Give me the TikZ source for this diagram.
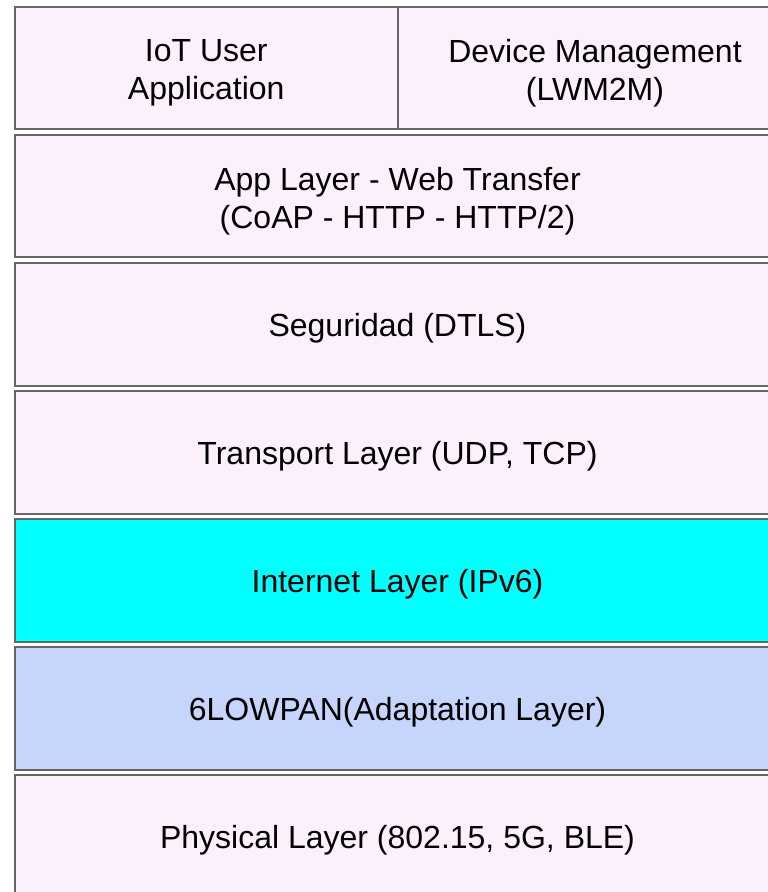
\documentclass[tikz,border=0pt]{standalone}
\usepackage{fontspec}
\setmainfont{Liberation Sans}
\usepackage{tikz}
\usetikzlibrary{positioning}
\definecolor{layerpink}{HTML}{FDF0FD}
\definecolor{layercyan}{HTML}{00FFFF}
\definecolor{layerblue}{HTML}{C6D5FC}
\definecolor{layerline}{HTML}{666666}
\newcommand{\layerpad}{\rule{0pt}{15.5pt}}

\begin{document}
\begin{tikzpicture}[node distance=2.75pt, line width=1pt,
  font=\fontsize{16}{19}\selectfont]
\tikzstyle{layer}=[draw=layerline, fill=layerpink, text=black, rectangle,
  align=center, inner sep=0pt, outer sep=0pt,
  minimum width=383pt, minimum height=61.25pt]
\tikzstyle{twoline}=[label={[align=center, yshift=-2.25pt, font=\fontsize{16}{19}\selectfont]center:#1}]
\useasboundingbox (0,0) rectangle (383.5pt,-446pt);
\node[layer, minimum width=191.75pt, anchor=north west,
  twoline={IoT User\\Application}] (app) at (7.25pt,-3.5pt) {};
\node[layer, minimum width=197pt, twoline={Device Management\\(LWM2M)}][right=0pt of app] (dev) {};
\node[layer, twoline={App Layer - Web Transfer\\(CoAP - HTTP - HTTP/2)}][below=of app.south west, anchor=north west] (web) {};
\node[layer][below=of web] (sec) {\layerpad Seguridad (DTLS)};
\node[layer][below=of sec] (tra) {\layerpad Transport Layer (UDP, TCP)};
\node[layer, fill=layercyan][below=of tra] (net) {\layerpad Internet Layer (IPv6)};
\node[layer, fill=layerblue][below=of net] (low) {\layerpad 6LOWPAN(Adaptation Layer)};
\node[layer][below=of low] (phy) {\layerpad Physical Layer (802.15, 5G, BLE)};
\end{tikzpicture}
\end{document}
